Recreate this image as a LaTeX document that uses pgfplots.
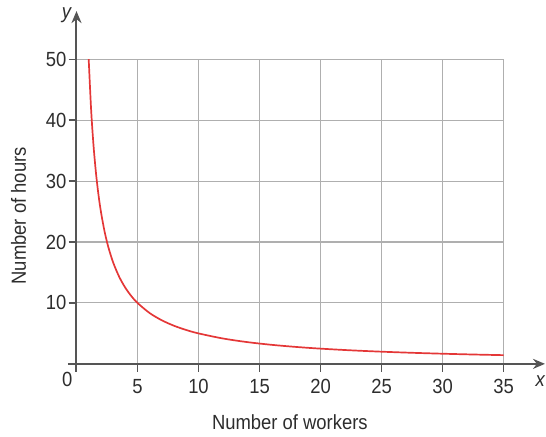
\documentclass[border=0pt]{standalone}
\usepackage{pgfplots}
\pgfplotsset{compat=1.18}
\usepackage{fontspec}
\setmainfont{Liberation Sans}[FakeStretch=0.9]
\usetikzlibrary{arrows.meta}
\definecolor{gridc}{RGB}{175,175,175}
\definecolor{axc}{RGB}{85,85,85}
\definecolor{txtc}{RGB}{45,45,45}
\definecolor{curvec}{RGB}{228,55,55}
\begin{document}
\fontsize{20.5}{24}\selectfont
\begin{tikzpicture}
\begin{axis}[
  scale only axis, width=427.5pt, height=305pt,
  xmin=0, xmax=35, ymin=0, ymax=50,
  xtick={5,10,...,35}, ytick={10,20,...,50},
  xtick pos=bottom, ytick pos=left,
  tick align=outside, major tick length=8pt,
  tick style={axc, line width=1.4pt},
  grid=major, grid style={gridc, line width=1.1pt},
  axis line style={gridc, line width=1.1pt},
  /pgf/number format/assume math mode=true,
  ticklabel style={font=\fontsize{20.5}{24}\selectfont, text=txtc},
  yticklabel style={inner sep=2pt},
  xticklabel style={inner sep=1pt, yshift=-6pt},
  clip=false,
  xlabel={Number of workers},
  xlabel style={at={(axis cs:17.49,-9.62)}, anchor=center, inner sep=0pt, text=txtc},
  ylabel={Number of hours},
  ylabel style={at={(axis cs:-4.75,24.3)}, anchor=center, inner sep=0pt, text=txtc},
]
\path (axis cs:-6.27,-11.97) rectangle (axis cs:38.45,59.72);
\draw[axc, line width=2pt, -{Stealth[length=12pt,width=10pt]}] (axis cs:-0.7,0) -- (axis cs:38.4,0);
\draw[axc, line width=2pt, -{Stealth[length=12pt,width=10pt]}] (axis cs:0,-1.26) -- (axis cs:0,57.9);
\addplot[curvec, line width=1.7pt, smooth] coordinates {
(1,50) (1.2,41.667) (1.4,35.714) (1.6,31.25) (1.8,27.778) (2,25) (2.3,21.739)
(2.6,19.231) (3,16.667) (3.5,14.286) (4,12.5) (4.5,11.111) (5,10) (6,8.333)
(7,7.143) (8,6.25) (9,5.556) (10,5) (12,4.167) (14,3.571) (16,3.125)
(18,2.778) (20,2.5) (22.5,2.222) (25,2) (27.5,1.818) (30,1.667) (32.5,1.538) (35,1.429)
};
\node[anchor=north east, inner sep=0pt, text=txtc] at ([xshift=-4pt,yshift=-8pt]axis cs:0,0) {0};
\node[inner sep=0pt, text=txtc] at (axis cs:-0.78,57.2) {\textit{y}};
\node[inner sep=0pt, text=txtc] at (axis cs:38.04,-2.9) {\textit{x}};
\end{axis}
\end{tikzpicture}
\end{document}
